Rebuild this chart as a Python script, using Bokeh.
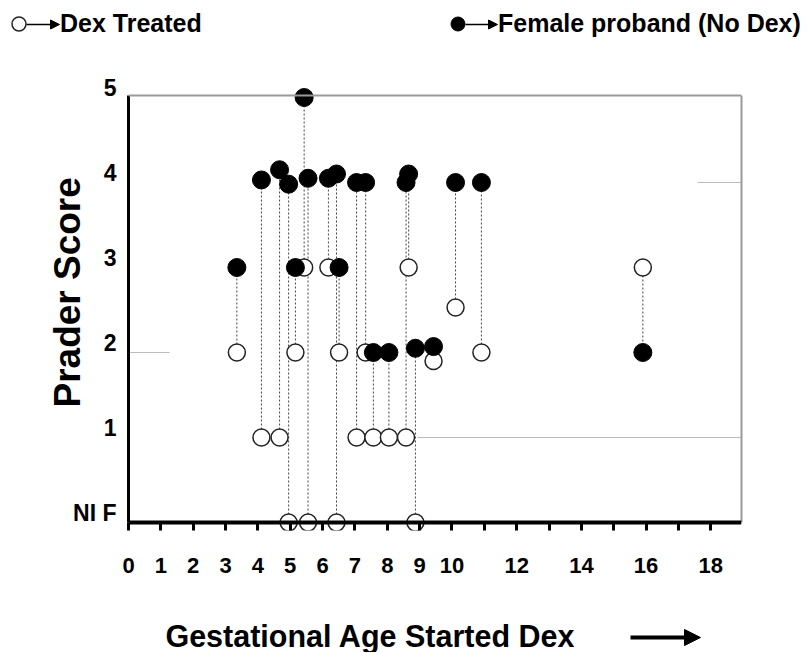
from bokeh.plotting import figure
from bokeh.layouts import column
from bokeh.models import (Range1d, LinearAxis, FixedTicker, Span, Label, Legend, LegendItem,
                          Arrow, NormalHead, ColumnDataSource, Title)
from bokeh.embed import file_html
from bokeh.resources import INLINE

# ---------------- data ----------------
age_started = [3.35, 4.11, 4.67, 4.95, 5.16, 5.43, 5.55, 6.18, 6.43, 6.51, 7.05,
               7.33, 7.57, 8.05, 8.58, 8.66, 8.87, 9.43, 10.11, 10.91, 15.9]
dex_treated = [2, 1, 1, 0, 2, 3, 0, 3, 0, 2, 1,
               2, 1, 1, 1, 3, 0, 1.9, 2.53, 2, 3]
proband_no_dex = [3, 4.03, 4.15, 3.98, 3, 5, 4.05, 4.05, 4.1, 3, 4.0,
                  4.0, 2, 2, 4.0, 4.1, 2.05, 2.07, 4.0, 4.0, 2]

x_ticks = list(range(0, 19))
x_tick_labels = {t: ("" if t in (11, 13, 15, 17) else str(t)) for t in x_ticks}
y_tick_values = [0, 1, 2, 3, 4, 5]
y_tick_labels = {0: "NI F", 1: "1", 2: "2", 3: "3", 4: "4", 5: "5"}

# remnants of light grid lines visible in the original
grid_y = [2, 4, 1]
grid_x0 = [0.0, 17.59, 8.93]
grid_x1 = [1.27, 18.95, 18.95]

# ---------------- layout ----------------
FONT = "Liberation Sans"
W = 808
X1 = 18.95                 # right end of the x axis
Y0, Y1 = -0.094, 5.024     # frame bottom / top box line of the original
Y_TOP = 5.2                # room above the box for the "5" label
LAB_SHIFT = 0.106          # tick labels sit slightly above their values in the original


def no_align(fig):
    if "frame_align" in fig.properties():
        fig.frame_align = False


# ---- legend strip (top) ----
leg_fig = figure(width=W, height=50, x_range=Range1d(0, W), y_range=Range1d(50, 0),
                 output_backend="svg", toolbar_location=None, min_border=0,
                 x_axis_type=None, y_axis_type=None)
no_align(leg_fig)
leg_fig.outline_line_color = None
# legend proxies (one point placed outside the visible range)
d_open = leg_fig.scatter(x=[-100], y=[-100], marker="circle", fill_color="white",
                         line_color="#222222", line_width=1.5)
d_fill = leg_fig.scatter(x=[-100], y=[-100], marker="circle", fill_color="black",
                         line_color="black")
common = dict(glyph_width=35, glyph_height=35, padding=0, margin=0, spacing=0,
              border_line_color=None, background_fill_alpha=0,
              label_text_font=FONT, label_text_font_style="bold",
              label_text_font_size="25px", label_text_color="black")
leg_fig.add_layout(Legend(items=[LegendItem(label="Dex Treated", renderers=[d_open])],
                          location=(1, 9), label_standoff=24, **common))
leg_fig.add_layout(Legend(items=[LegendItem(label="Female proband (No Dex)", renderers=[d_fill])],
                          location=(440, 9), label_standoff=23, **common))
for xs, xe in [(26, 59), (465, 497)]:
    leg_fig.add_layout(Arrow(x_start=xs, y_start=24, x_end=xe, y_end=24,
                             line_width=1.5, line_color="black",
                             end=NormalHead(size=9, fill_color="black", line_color="black")))

# ---- main chart ----
p = figure(width=W, height=545, x_range=Range1d(0, X1), y_range=Range1d(Y0, Y_TOP),
           output_backend="svg", toolbar_location=None,
           min_border_left=128, min_border_right=67, min_border_top=30, min_border_bottom=65,
           x_axis_type=None, y_axis_type=None)
no_align(p)
p.outline_line_color = None
p.extra_y_ranges = {"ylab": Range1d(Y0 - LAB_SHIFT, Y_TOP - LAB_SHIFT)}

xax = LinearAxis(ticker=FixedTicker(ticks=x_ticks), major_label_overrides=x_tick_labels,
                 axis_line_color=None, major_tick_in=8, major_tick_out=0,
                 major_tick_line_width=3, major_tick_line_color="black",
                 minor_tick_line_color=None, major_label_standoff=27,
                 major_label_text_font=FONT, major_label_text_font_style="bold",
                 major_label_text_font_size="22px", major_label_text_color="black")
p.add_layout(xax, "below")

# y axis line
yline = LinearAxis(ticker=FixedTicker(ticks=[]), bounds=(0, Y1), axis_line_width=3,
                   axis_line_color="black", major_tick_line_color=None, major_tick_out=0,
                   major_tick_in=0, minor_tick_line_color=None, major_label_standoff=0,
                   major_label_text_font_size="0px")
p.add_layout(yline, "left")
# y tick labels
ylab = LinearAxis(y_range_name="ylab", ticker=FixedTicker(ticks=y_tick_values),
                  major_label_overrides=y_tick_labels,
                  axis_line_color=None, major_tick_line_color=None, major_tick_out=0,
                  major_tick_in=0, minor_tick_line_color=None, major_label_standoff=12,
                  major_label_text_font=FONT, major_label_text_font_style="bold",
                  major_label_text_font_size="23px", major_label_text_color="black")
p.add_layout(ylab, "left")
p.add_layout(Title(text="Prader Score", align="left", offset=123, vertical_align="bottom",
                   standoff=-34, text_font=FONT, text_font_style="bold",
                   text_font_size="37px", text_color="black"), "left")

# thin grey box lines (top and right)
p.add_layout(Span(location=Y1, dimension="width", line_color="#9a9a9a", line_width=2))
right_ax = LinearAxis(ticker=FixedTicker(ticks=[]), bounds=(0, Y1), axis_line_color="#9a9a9a",
                      axis_line_width=2, major_tick_line_color=None, minor_tick_line_color=None,
                      major_label_text_font_size="0px")
p.add_layout(right_ax, "right")

p.segment(x0=grid_x0, y0=grid_y, x1=grid_x1, y1=grid_y, line_color="#bbbbbb", line_width=1)

src = ColumnDataSource(dict(age=age_started, treated=dex_treated, proband=proband_no_dex))
p.segment(x0="age", y0="treated", x1="age", y1="proband", source=src,
          line_color="#444444", line_width=1, line_dash="2 2")
p.scatter("age", "treated", source=src, size=17, marker="circle",
          fill_color="white", line_color="#222222", line_width=1.5)
p.scatter("age", "proband", source=src, size=18, marker="circle",
          fill_color="black", line_color="black")
p.add_layout(Span(location=0, dimension="width", line_color="black", line_width=4))

# ---- x-axis title strip (bottom) ----
bot_fig = figure(width=W, height=57, x_range=Range1d(0, W), y_range=Range1d(652, 595),
                 output_backend="svg", toolbar_location=None, min_border=0,
                 x_axis_type=None, y_axis_type=None)
no_align(bot_fig)
bot_fig.outline_line_color = None
bot_fig.add_layout(Label(x=370, y=635, text="Gestational Age Started Dex", text_align="center",
                         text_baseline="alphabetic", text_font=FONT, text_font_style="bold",
                         text_font_size="30.5px", text_color="black"))
bot_fig.add_layout(Arrow(x_start=630, y_start=637, x_end=700, y_end=637, line_width=4,
                         line_color="black",
                         end=NormalHead(size=16, fill_color="black", line_color="black")))

layout = column(leg_fig, p, bot_fig, spacing=0)
open("out.html", "w").write(file_html(layout, INLINE))
